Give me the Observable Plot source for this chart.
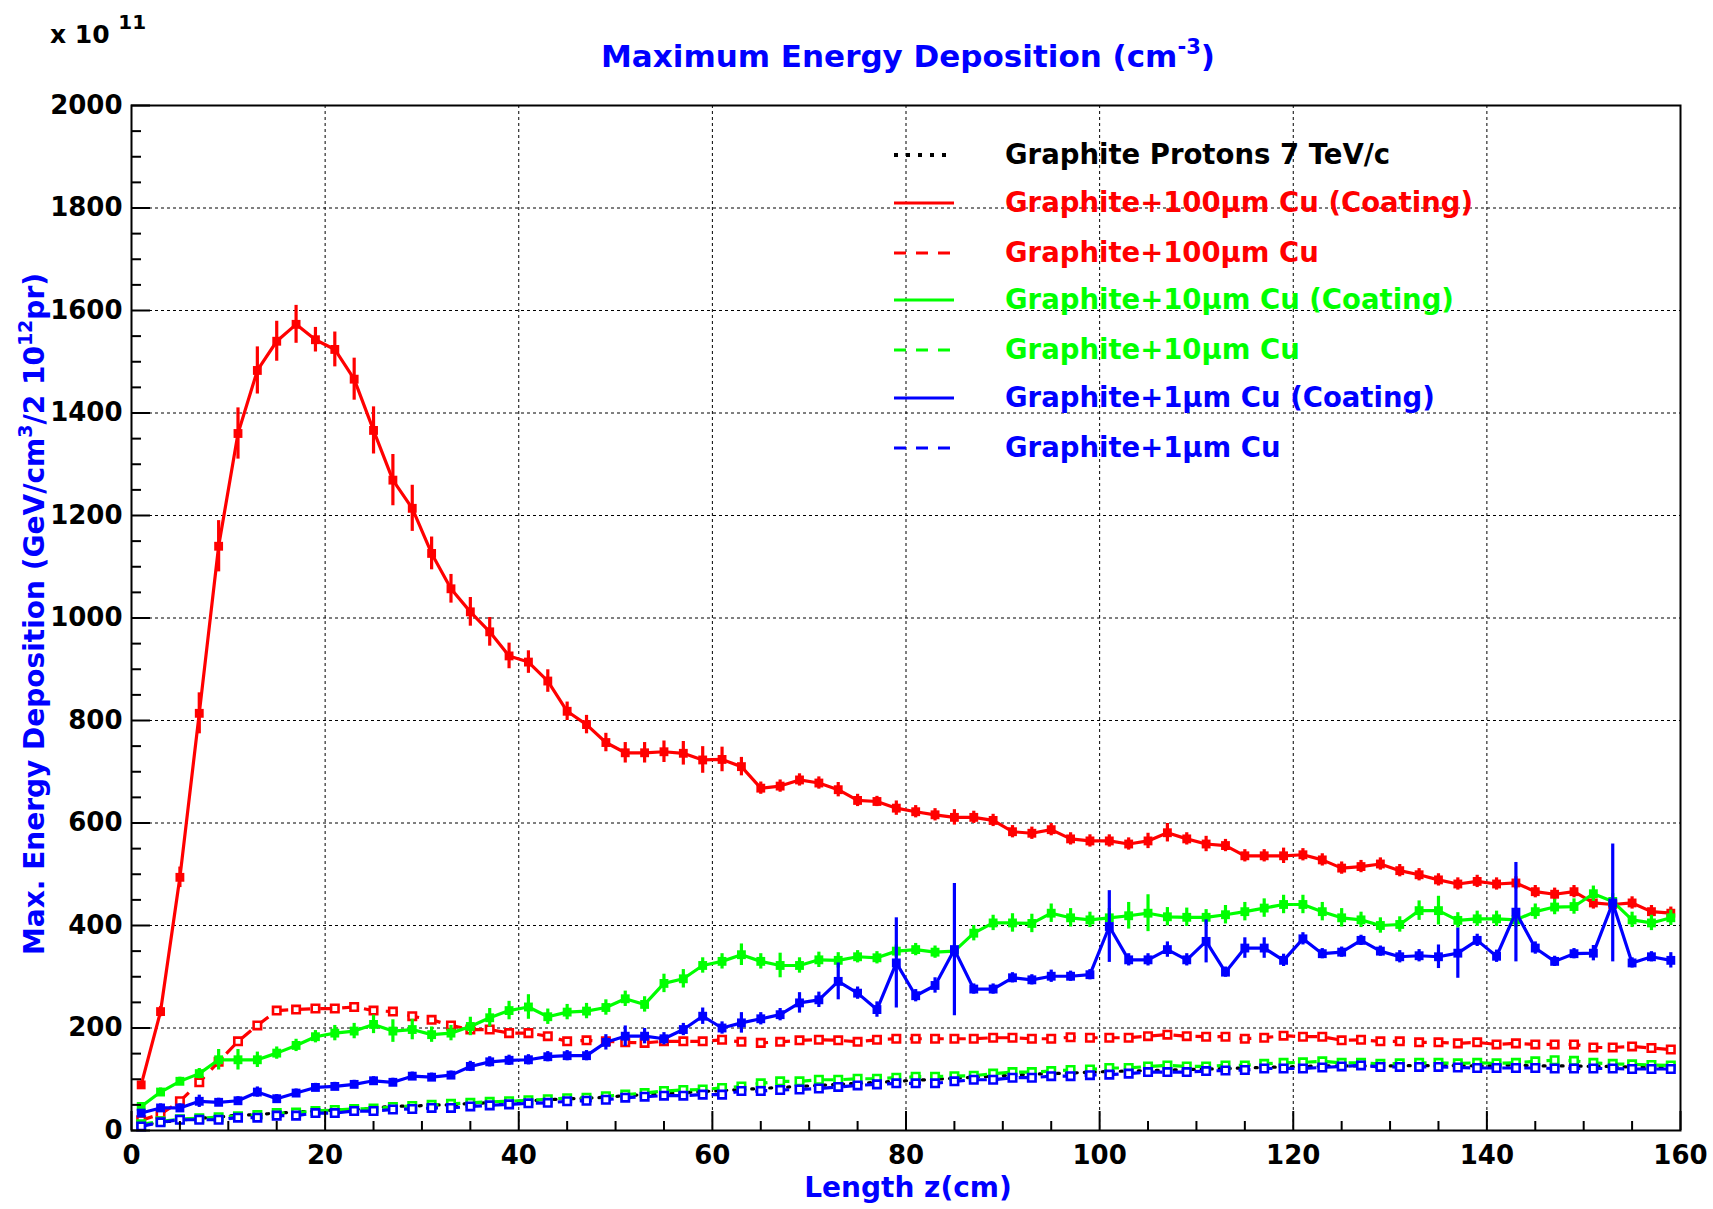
<!DOCTYPE html>
<html>
<head>
<meta charset="utf-8">
<script src="https://cdn.jsdelivr.net/npm/d3@7"></script>
<script src="https://cdn.jsdelivr.net/npm/@observablehq/plot@0.6"></script>
<style>
  html, body { margin: 0; padding: 0; background: #fff; }
  #wrap { position: relative; width: 1713px; height: 1209px; overflow: hidden;
          font-family: "DejaVu Sans", sans-serif; font-weight: bold; background: #fff; }
  #wrap svg { display: block; }
  .abs { position: absolute; white-space: nowrap; line-height: 1; }
  sup { font-size: 0.68em; vertical-align: 0.62em; line-height: 0; }
</style>
</head>
<body>
<div id="wrap"></div>
<script>
// ---------- data ----------
const zPos = [1,3,5,7,9,11,13,15,17,19,21,23,25,27,29,31,33,35,37,39,
  41,43,45,47,49,51,53,55,57,59,61,63,65,67,69,71,73,75,77,79,
  81,83,85,87,89,91,93,95,97,99,101,103,105,107,109,111,113,115,117,119,
  121,123,125,127,129,131,133,135,137,139,141,143,145,147,149,151,153,155,157,159];

const blackVals = [10,16,20,24,26,30,31,34,36,38, 40,41,43,48,47,50,50,53,54,56,
  58,60,62,63,65,68,70,72,74,76, 78,80,82,84,86,88,90,92,94,96,
  98,100,102,104,106,108,110,111,112,114, 115,116,117,118,119,120,121,122,123,124,
  125,126,126,126,126,126,127,126,127,126, 127,128,126,126,126,125,125,124,124,124];

const red100Coat = [89,232,494,814,1140,1360,1483,1540,1573,1543, 1524,1466,1366,1269,1214,1126,1057,1012,973,926,
  914,877,818,792,757,737,737,739,736,723, 724,710,668,672,684,678,665,644,642,629,
  622,616,611,611,605,583,580,587,569,565, 565,559,565,581,569,559,556,536,536,536,
  538,528,512,515,520,507,499,489,481,486, 481,483,466,461,466,444,441,444,427,424];
const red100CoatErr = [6,10,20,40,50,50,46,39,37,24, 34,41,46,50,45,32,28,28,28,25,
  22,22,18,18,18,20,20,21,23,26, 24,18,12,12,12,12,14,12,10,14,
  12,12,15,12,12,12,12,12,12,12, 12,12,15,18,12,15,12,12,12,15,
  12,12,12,12,12,12,12,12,12,12, 12,12,12,12,12,12,12,12,12,12];

const red100 = [20,32,57,94,134,174,205,234,236,238, 238,241,234,232,223,216,205,197,197,190,
  190,184,174,176,174,172,171,174,174,174, 177,173,171,173,176,177,176,173,177,179,
  179,179,179,179,181,181,179,179,182,181, 181,181,184,187,184,183,183,179,181,185,
  183,183,176,177,174,174,172,172,170,172, 168,170,168,168,168,162,162,164,161,158];

const green10Coat = [47,75,96,111,138,138,138,151,166,183, 190,194,207,194,197,187,190,203,220,234,
  241,222,231,233,240,257,246,287,296,322, 330,343,330,322,322,333,332,339,337,350,
  353,348,350,385,405,405,404,424,415,411, 415,419,424,417,416,416,421,427,434,441,
  441,427,415,411,400,402,429,429,410,413, 413,411,427,436,437,462,447,411,405,415];
const green10CoatErr = [6,8,8,10,20,20,15,12,12,12, 15,15,18,22,20,15,15,18,18,18,
  24,15,15,15,15,15,15,18,18,15, 15,21,15,24,15,15,15,12,12,12,
  12,12,12,15,15,18,18,18,18,15, 18,26,36,18,18,15,18,18,18,18,
  18,18,18,15,15,15,19,28,15,15, 15,15,15,15,15,15,15,15,15,15];

const green10 = [12,18,22,24,26,28,30,34,35,38, 40,42,43,46,48,50,52,54,56,57,
  59,61,63,64,67,70,73,77,79,80, 83,86,92,96,96,99,99,101,101,103,
  105,105,106,107,111,114,114,116,118,119, 122,122,125,127,125,125,127,127,130,132,
  133,135,132,132,130,131,132,132,131,132, 131,132,135,137,136,132,130,129,128,127];

const blue1Coat = [34,44,44,57,55,58,75,62,73,84, 86,90,97,94,106,104,108,125,134,137,
  138,144,146,146,172,184,184,179,197,223, 200,210,218,226,249,255,291,268,236,327,
  263,283,353,276,276,298,294,301,301,304, 398,333,333,353,333,369,309,356,356,332,
  374,345,348,371,350,339,341,339,346,371, 340,426,356,330,345,346,444,327,339,332];
const blue1CoatErr = [6,8,8,12,8,8,10,8,8,8, 8,8,8,8,8,8,8,10,10,10,
  10,10,10,10,15,20,15,12,12,16, 12,20,12,12,20,15,36,12,15,88,
  12,15,129,10,10,10,10,12,10,10, 70,12,12,15,12,42,10,20,20,12,
  12,10,10,10,10,12,12,23,49,12, 12,97,12,10,10,15,115,10,10,15];

const blue1 = [8,16,21,21,21,25,25,29,29,34, 34,38,38,41,42,44,44,47,49,51,
  53,54,57,58,60,64,66,68,68,70, 70,77,77,79,80,82,85,88,90,92,
  92,92,96,99,99,103,103,106,106,108, 109,111,114,114,114,116,117,118,121,121,
  121,123,125,127,124,124,124,124,123,122, 122,122,122,121,121,121,121,120,120,120];

const legendLabels = [
  "Graphite Protons 7 TeV/c",
  "Graphite+100μm Cu (Coating)",
  "Graphite+100μm Cu",
  "Graphite+10μm Cu (Coating)",
  "Graphite+10μm Cu",
  "Graphite+1μm Cu (Coating)",
  "Graphite+1μm Cu"
];

const xMajor = [0,20,40,60,80,100,120,140,160];
const xMinor = [5,10,15,25,30,35,45,50,55,65,70,75,85,90,95,105,110,115,125,130,135,145,150,155];
const yMajor = [0,200,400,600,800,1000,1200,1400,1600,1800,2000];
const yMinor = [50,100,150,250,300,350,450,500,550,650,700,750,850,900,950,1050,1100,1150,
  1250,1300,1350,1450,1500,1550,1650,1700,1750,1850,1900,1950];
const xGrid = [20,40,60,80,100,120,140];
const yGrid = [200,400,600,800,1000,1200,1400,1600,1800];

// ---------- build series ----------
const RED = "#ff0000", GREEN = "#00ff00", BLUE = "#0000ff";
const series = [
  {vals: blackVals,   err: null,           color: "#000000", dash: "2,7",   kind: "dot"},
  {vals: red100Coat,  err: red100CoatErr,  color: RED,       dash: null,    kind: "filled"},
  {vals: red100,      err: null,           color: RED,       dash: "12,10", kind: "open"},
  {vals: green10Coat, err: green10CoatErr, color: GREEN,     dash: null,    kind: "filled"},
  {vals: green10,     err: null,           color: GREEN,     dash: "12,10", kind: "open"},
  {vals: blue1Coat,   err: blue1CoatErr,   color: BLUE,      dash: null,    kind: "filled"},
  {vals: blue1,       err: null,           color: BLUE,      dash: "12,10", kind: "open"}
];

const seriesMarks = [];
for (const s of series) {
  const d = zPos.map((z, i) => ({z, v: s.vals[i], e: s.err ? s.err[i] : 0}));
  seriesMarks.push(Plot.line(d, {x: "z", y: "v", stroke: s.color, strokeWidth: 3.2,
    strokeDasharray: s.dash, strokeLinecap: s.kind === "dot" ? "round" : "butt", strokeLinejoin: "round"}));
  if (s.err) {
    seriesMarks.push(Plot.ruleX(d, {x: "z", y1: (p) => p.v - p.e, y2: (p) => p.v + p.e,
      stroke: s.color, strokeWidth: 3.2}));
  }
  if (s.kind === "filled") {
    seriesMarks.push(Plot.dot(d, {x: "z", y: "v", symbol: "square", r: 5, fill: s.color, stroke: "none"}));
  } else if (s.kind === "open") {
    seriesMarks.push(Plot.dot(d, {x: "z", y: "v", symbol: "square", r: 4.2, fill: "white",
      stroke: s.color, strokeWidth: 2.6}));
  } else {
    seriesMarks.push(Plot.dot(d, {x: "z", y: "v", r: 2.4, fill: s.color, stroke: "none"}));
  }
}

const font = {fontFamily: "DejaVu Sans", fontWeight: "bold", fontSize: 26, fill: "black"};

const chart = Plot.plot({
  width: 1713,
  height: 1209,
  marginTop: 105,
  marginBottom: 79,
  marginLeft: 131,
  marginRight: 33,
  x: {domain: [0, 160]},
  y: {domain: [0, 2000]},
  style: {fontFamily: "DejaVu Sans", fontWeight: "bold", background: "white", overflow: "visible"},
  marks: [
    Plot.ruleX(xGrid, {stroke: "black", strokeWidth: 1, strokeDasharray: "3,3"}),
    Plot.ruleY(yGrid, {stroke: "black", strokeWidth: 1, strokeDasharray: "3,3"}),
    ...seriesMarks,
    Plot.frame({stroke: "black", strokeWidth: 2}),
    Plot.axisX(xMajor, {anchor: "bottom", tickSize: 19, dy: -19, strokeWidth: 2, text: null, label: null}),
    Plot.axisX(xMinor, {anchor: "bottom", tickSize: 9, dy: -9, strokeWidth: 2, text: null, label: null}),
    Plot.axisX(xMajor, {anchor: "bottom", tickSize: 0, tickPadding: 15, tickFormat: (d) => String(d), label: null, ...font}),
    Plot.axisY(yMajor, {anchor: "left", tickSize: 19, dx: 19, strokeWidth: 2, text: null, label: null}),
    Plot.axisY(yMinor, {anchor: "left", tickSize: 10, dx: 10, strokeWidth: 2, text: null, label: null}),
    Plot.axisY(yMajor, {anchor: "left", tickSize: 0, tickPadding: 9, tickFormat: (d) => String(d), label: null, ...font})
  ]
});

const wrap = document.getElementById("wrap");
wrap.appendChild(chart);

function addText(html, style) {
  const el = document.createElement("div");
  el.className = "abs";
  el.innerHTML = html;
  Object.assign(el.style, style);
  wrap.appendChild(el);
  return el;
}

// title
addText("Maximum Energy Deposition (cm<sup>-3</sup>)",
  {left: "908px", top: "41px", transform: "translateX(-50%)", fontSize: "31px", color: BLUE});
// exponent
addText("x 10 <sup style='font-size:0.8em;vertical-align:0.7em'>11</sup>",
  {left: "50px", top: "22px", fontSize: "25px", color: "black"});
// x label
addText("Length z(cm)",
  {left: "908px", top: "1174px", transform: "translateX(-50%)", fontSize: "28px", color: BLUE});
// y label
addText("Max. Energy Deposition (GeV/cm<sup>3</sup>/2 10<sup>12</sup>pr)",
  {left: "35px", top: "614px", transform: "translate(-50%,-50%) rotate(-90deg)", fontSize: "28px", color: BLUE});

// legend
const rowY = [155, 203, 253, 300, 350, 398, 448];
series.forEach((s, i) => {
  const y = rowY[i];
  const svgNS = "http://www.w3.org/2000/svg";
  const sv = document.createElementNS(svgNS, "svg");
  sv.setAttribute("width", "62");
  sv.setAttribute("height", "12");
  sv.style.position = "absolute";
  sv.style.left = "894px";
  sv.style.top = (y - 6) + "px";
  const ln = document.createElementNS(svgNS, "line");
  ln.setAttribute("x1", "0"); ln.setAttribute("x2", "60");
  ln.setAttribute("y1", "6"); ln.setAttribute("y2", "6");
  ln.setAttribute("stroke", s.color);
  ln.setAttribute("stroke-width", s.kind === "dot" ? "4" : "3");
  if (s.kind === "dot") { ln.setAttribute("stroke-dasharray", "4,8"); }
  else if (s.dash) { ln.setAttribute("stroke-dasharray", "12,10"); }
  sv.appendChild(ln);
  wrap.appendChild(sv);
  addText(legendLabels[i], {left: "1005px", top: (y - 14) + "px", fontSize: "27.5px", color: s.color});
});
</script>
</body>
</html>
